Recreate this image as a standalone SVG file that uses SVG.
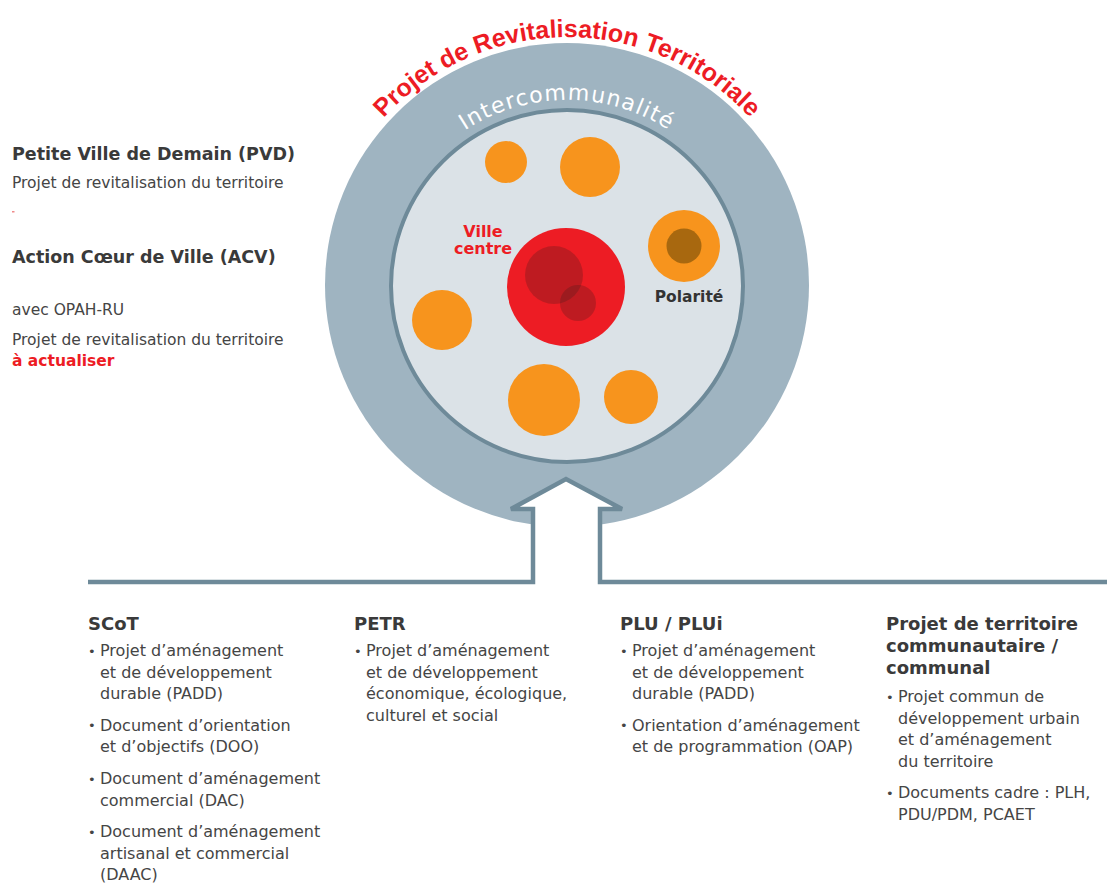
<svg xmlns="http://www.w3.org/2000/svg" width="1107" height="883" viewBox="0 0 1107 883">
<defs>
<style>
.h{font-family:"DejaVu Sans",sans-serif;font-weight:bold;font-size:18px;fill:#3a3a3a}
.hl{font-family:"DejaVu Sans",sans-serif;font-weight:bold;font-size:17.5px;fill:#3a3a3a}
.b{font-family:"DejaVu Sans",sans-serif;font-size:16px;fill:#454545}
.bl{font-family:"DejaVu Sans",sans-serif;font-size:15.5px;fill:#454545}
.bu{font-family:"DejaVu Sans",sans-serif;font-size:13px;fill:#454545}
.red{fill:#ed1c24}
.orange{fill:#f7941d}
.conn{fill:none;stroke:#6e8a99;stroke-width:4.5}
</style>
<path id="arcOuter" d="M322.8,241.9 A248,248 0 0 1 811.2,241.9"/>
<path id="arcInner" d="M392.2,222.4 A186,186 0 0 1 741.8,222.4"/>
</defs>
<rect width="1107" height="883" fill="#ffffff"/>

<g id="territoire">
<circle cx="567" cy="285" r="242" fill="#9fb4c1"/>
<text font-family="Liberation Sans, Arial, sans-serif" font-weight="bold" font-size="25" fill="#ed1c24" text-anchor="middle"><textPath href="#arcOuter" startOffset="50%">Projet de Revitalisation Territoriale</textPath></text>
</g>

<g id="intercommunalite">
<circle cx="567" cy="286" r="176" fill="#dbe2e7" stroke="#6e8a99" stroke-width="4"/>
<text font-family="DejaVu Sans, sans-serif" font-size="22" letter-spacing="1.3" fill="#ffffff" text-anchor="middle"><textPath href="#arcInner" startOffset="50%">Intercommunalité</textPath></text>
</g>

<g id="communes">
<circle class="orange" cx="506" cy="162" r="21"/>
<circle class="orange" cx="590" cy="167" r="30"/>
<circle class="orange" cx="442" cy="320" r="30"/>
<circle class="orange" cx="544" cy="400" r="36"/>
<circle class="orange" cx="631" cy="397" r="27"/>
</g>

<g id="ville-centre">
<circle cx="566" cy="287" r="59" fill="#ed1c24"/>
<circle cx="554" cy="275" r="29" fill="#3a1a1a" fill-opacity="0.26"/>
<circle cx="578" cy="303" r="18" fill="#3a1a1a" fill-opacity="0.26"/>
<text font-family="DejaVu Sans, sans-serif" font-weight="bold" font-size="16" fill="#ed1c24" text-anchor="middle"><tspan x="483" y="237">Ville</tspan><tspan x="483" y="254">centre</tspan></text>
</g>

<g id="polarite">
<circle class="orange" cx="684" cy="246" r="36"/>
<circle cx="684" cy="246" r="17.5" fill="#a8680f"/>
<text x="689" y="302" font-family="DejaVu Sans, sans-serif" font-weight="bold" font-size="15.5" fill="#333333" text-anchor="middle">Polarité</text>
</g>

<g id="pvd">
<text class="hl" x="12" y="160">Petite Ville de Demain (PVD)</text>
<text class="bl" x="12" y="188">Projet de revitalisation du territoire</text>
<rect x="12" y="211" width="2.5" height="1.5" fill="#f08a8a"/>
</g>

<g id="acv">
<text class="hl" x="12" y="263">Action Cœur de Ville (ACV)</text>
<text class="bl" x="12" y="315">avec OPAH-RU</text>
<text class="bl" x="12" y="345">Projet de revitalisation du territoire</text>
<text class="bl" x="12" y="366" font-weight="bold" style="fill:#ed1c24">à actualiser</text>
</g>

<g id="connectors">
<path d="M533,582 V509 H511 L566,479 L622,509 H600 V582 Z" fill="#ffffff" stroke="none"/>
<path class="conn" d="M88,582 H533 V509 H511 L566,479 L622,509 H600 V582 H1107"/>
</g>

<g id="scot">
<text class="h" x="88" y="630">SCoT</text>
<text class="bu" x="88" y="655.5">•</text>
<text class="b" x="100" y="656">Projet d’aménagement</text>
<text class="b" x="100" y="677.6">et de développement</text>
<text class="b" x="100" y="699.2">durable (PADD)</text>
<text class="bu" x="88" y="730.3">•</text>
<text class="b" x="100" y="730.8">Document d’orientation</text>
<text class="b" x="100" y="752.4">et d’objectifs (DOO)</text>
<text class="bu" x="88" y="783.5">•</text>
<text class="b" x="100" y="784">Document d’aménagement</text>
<text class="b" x="100" y="805.6">commercial (DAC)</text>
<text class="bu" x="88" y="836.7">•</text>
<text class="b" x="100" y="837.2">Document d’aménagement</text>
<text class="b" x="100" y="858.8">artisanal et commercial</text>
<text class="b" x="100" y="880.4">(DAAC)</text>
</g>

<g id="petr">
<text class="h" x="354" y="630">PETR</text>
<text class="bu" x="354" y="655.5">•</text>
<text class="b" x="366" y="656">Projet d’aménagement</text>
<text class="b" x="366" y="677.6">et de développement</text>
<text class="b" x="366" y="699.2">économique, écologique,</text>
<text class="b" x="366" y="720.8">culturel et social</text>
</g>

<g id="plu">
<text class="h" x="620" y="630">PLU / PLUi</text>
<text class="bu" x="620" y="655.5">•</text>
<text class="b" x="632" y="656">Projet d’aménagement</text>
<text class="b" x="632" y="677.6">et de développement</text>
<text class="b" x="632" y="699.2">durable (PADD)</text>
<text class="bu" x="620" y="730.3">•</text>
<text class="b" x="632" y="730.8">Orientation d’aménagement</text>
<text class="b" x="632" y="752.4">et de programmation (OAP)</text>
</g>

<g id="projet-territoire">
<text class="h" x="886" y="630">Projet de territoire</text>
<text class="h" x="886" y="652">communautaire /</text>
<text class="h" x="886" y="674">communal</text>
<text class="bu" x="886" y="701.5">•</text>
<text class="b" x="898" y="702">Projet commun de</text>
<text class="b" x="898" y="723.6">développement urbain</text>
<text class="b" x="898" y="745.2">et d’aménagement</text>
<text class="b" x="898" y="766.8">du territoire</text>
<text class="bu" x="886" y="797.9">•</text>
<text class="b" x="898" y="798.4">Documents cadre : PLH,</text>
<text class="b" x="898" y="820">PDU/PDM, PCAET</text>
</g>
</svg>
